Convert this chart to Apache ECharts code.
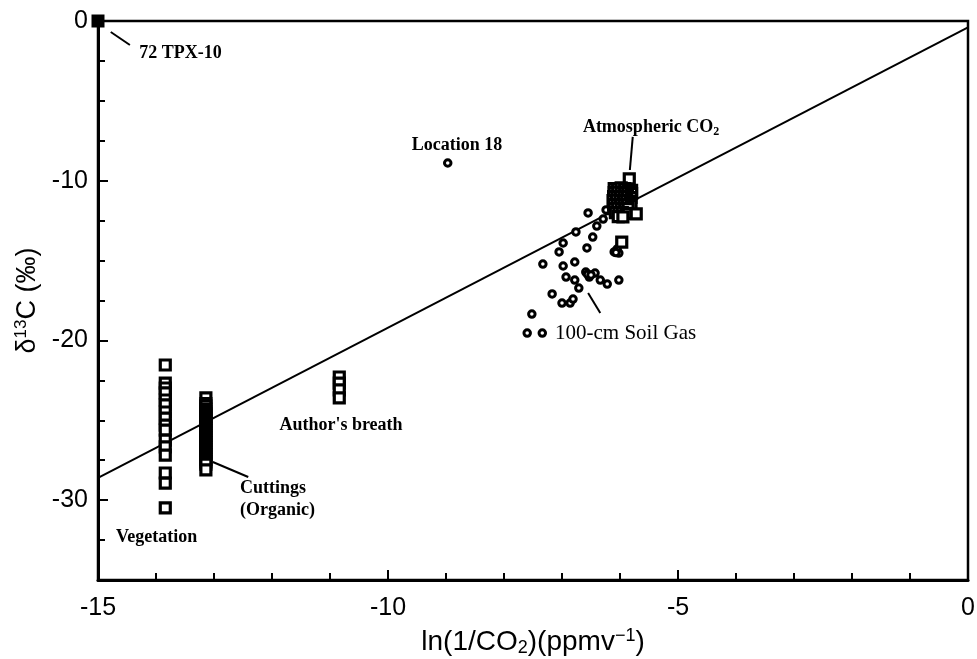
<!DOCTYPE html>
<html><head><meta charset="utf-8">
<script src="https://cdn.jsdelivr.net/npm/echarts@6/dist/echarts.min.js"></script>
<style>html,body{margin:0;padding:0;background:#fff}#c{width:977px;height:659px}</style>
</head><body><div id="c"></div>
<script>
// ---- data ----
const yMajorTicks = [-30, -20, -10, 0];
const tpx10 = [[-15, 0]];
const location18 = [[-8.97, -8.89]];
const vegetation = [
  [-13.84,-21.54],[-13.84,-22.67],[-13.84,-22.98],[-13.84,-23.29],[-13.84,-23.73],
  [-13.84,-24.04],[-13.84,-24.48],[-13.84,-24.86],[-13.84,-25.30],[-13.84,-25.61],
  [-13.84,-26.24],[-13.84,-26.67],[-13.84,-27.18],[-13.84,-28.30],[-13.84,-28.93],
  [-13.84,-30.49]
];
const cuttings = [
  [-13.14,-23.6],[-13.14,-23.95],[-13.14,-24.1],[-13.14,-24.3],[-13.14,-24.45],[-13.14,-24.6],
  [-13.14,-24.75],[-13.14,-24.9],[-13.14,-25.05],[-13.14,-25.2],[-13.14,-25.35],
  [-13.14,-25.5],[-13.14,-25.65],[-13.14,-25.8],[-13.14,-25.95],[-13.14,-26.1],
  [-13.14,-26.25],[-13.14,-26.4],[-13.14,-26.55],[-13.14,-26.7],[-13.14,-26.85],
  [-13.14,-27.0],[-13.14,-27.15],[-13.14,-27.3],[-13.14,-27.45],[-13.14,-27.6],
  [-13.14,-27.75],[-13.14,-28.1]
];
const authorsBreath = [[-10.84,-22.29],[-10.84,-22.67],[-10.84,-23.1],[-10.84,-23.6]];
const atmospheric = [
  [-5.84,-9.89],
  [-6.10,-10.50],[-6.04,-10.50],[-5.98,-10.45],[-5.92,-10.50],[-5.86,-10.55],[-5.80,-10.60],
  [-6.10,-10.75],[-6.04,-10.72],[-5.98,-10.75],[-5.92,-10.78],[-5.86,-10.75],[-5.80,-10.80],
  [-6.11,-11.00],[-6.05,-11.00],[-5.99,-10.98],[-5.93,-11.02],[-5.87,-11.00],[-5.81,-11.05],
  [-6.12,-11.25],[-6.06,-11.22],[-6.00,-11.25],[-5.94,-11.28],[-5.88,-11.25],[-5.82,-11.30],
  [-6.11,-11.50],[-6.05,-11.48],[-5.99,-11.50],[-5.93,-11.52],[-5.87,-11.50],[-5.81,-11.55],
  [-6.10,-11.75],[-6.04,-11.72],[-5.98,-11.75],[-5.92,-11.78],[-5.86,-11.75],
  [-6.08,-12.00],[-6.02,-12.02],[-5.96,-12.00],[-5.90,-12.05],
  [-6.03,-12.25],[-5.95,-12.27],
  [-5.72,-12.08],[-5.97,-13.84]
];
const soilGas = [
  [-6.55,-12.02],[-6.24,-11.83],[-6.29,-12.40],[-6.40,-12.84],[-6.76,-13.21],
  [-6.47,-13.53],[-6.98,-13.90],[-7.05,-14.46],[-6.57,-14.21],[-7.33,-15.22],
  [-6.98,-15.34],[-6.78,-15.09],[-6.93,-16.03],[-6.78,-16.22],[-6.71,-16.72],
  [-6.59,-15.72],[-6.53,-16.03],[-6.43,-15.78],[-6.34,-16.22],[-6.22,-16.47],
  [-6.02,-16.22],[-7.17,-17.09],[-7.00,-17.66],[-6.86,-17.66],[-6.81,-17.41],
  [-7.52,-18.35],[-7.60,-19.54],[-7.34,-19.54],[-6.10,-14.46],[-6.02,-14.53],
  [-6.05,-14.28],[-6.07,-14.50],[-6.56,-15.85],[-6.50,-15.90]
];
const regression = [[-15, -28.6], [0, -0.4]];

// annotations in data coordinates
const notes = [
  {text: '{b|72 TPX-10}', at: [-14.29, -2.0], align: 'left'},
  {text: '{b|Location 18}', at: [-8.81, -7.76], align: 'center'},
  {text: '{b|Atmospheric CO}{s|2}', at: [-6.64, -6.64], align: 'left'},
  {text: '{n|100-cm Soil Gas}', at: [-7.12, -19.54], align: 'left'},
  {text: "{b|Author's breath}", at: [-10.81, -25.3], align: 'center'},
  {text: '{b|Cuttings}\n{b|(Organic)}', at: [-12.55, -29.93], align: 'left'},
  {text: '{b|Vegetation}', at: [-14.69, -32.3], align: 'left'}
];
const leaders = [
  [[-14.78, -0.69], [-14.45, -1.50]],
  [[-5.78, -7.26], [-5.83, -9.33]],
  [[-6.55, -17.03], [-6.34, -18.28]],
  [[-13.02, -27.61], [-12.41, -28.55]]
];

const chart = echarts.init(document.getElementById('c'), null, {renderer: 'canvas'});
const sqStyle = {color: '#fff', borderColor: '#000', borderWidth: 3.2, opacity: 1};
const ciStyle = {color: '#fff', borderColor: '#000', borderWidth: 3, opacity: 1};
const sans = 'Liberation Sans, Arial, sans-serif';
const serif = 'Liberation Serif, Times New Roman, serif';

function sq(name, data) {
  return {type: 'scatter', name, data, symbol: 'rect', symbolSize: 10, itemStyle: sqStyle, clip: false, z: 3};
}
function ci(name, data) {
  return {type: 'scatter', name, data, symbol: 'circle', symbolSize: 6.5, itemStyle: ciStyle, clip: false, z: 3};
}

chart.setOption({
  animation: false,
  backgroundColor: '#fff',
  grid: {left: 98, right: 9, top: 21, bottom: 79, show: true, borderColor: '#000', borderWidth: 2.5,
         containLabel: false, outerBoundsMode: 'none'},
  xAxis: {
    type: 'value', min: -15, max: 0, interval: 5,
    axisLine: {onZero: false, lineStyle: {color: '#000', width: 3}},
    axisTick: {inside: true, length: 10, lineStyle: {color: '#000', width: 2}},
    minorTick: {show: true, splitNumber: 5, length: 7, lineStyle: {color: '#000', width: 2}},
    splitLine: {show: false},
    minorSplitLine: {show: false},
    axisLabel: {color: '#000', fontSize: 25, fontFamily: sans, margin: 16},
    name: '{a|ln(1/CO}{sub|2}{a|)(ppmv}{sup|−1}{a|)}',
    nameLocation: 'middle', nameGap: 47,
    nameTextStyle: {
      rich: {
        a: {fontSize: 28, fontFamily: sans, color: '#000', lineHeight: 30},
        sub: {fontSize: 18, fontFamily: sans, color: '#000', verticalAlign: 'bottom', lineHeight: 30},
        sup: {fontSize: 18, fontFamily: sans, color: '#000', verticalAlign: 'top', lineHeight: 30}
      }
    }
  },
  yAxis: [{
    type: 'value', min: -35, max: 0, interval: 2.5,
    axisLine: {onZero: false, lineStyle: {color: '#000', width: 3}},
    axisTick: {inside: true, length: 7, lineStyle: {color: '#000', width: 2}},
    splitLine: {show: false},
    axisLabel: {color: '#000', fontSize: 25, fontFamily: sans, margin: 10, customValues: yMajorTicks},
    name: '{a|δ}{sup|13}{a|C (‰)}',
    nameLocation: 'middle', nameGap: 52, nameRotate: 90,
    nameTextStyle: {
      rich: {
        a: {fontSize: 27, fontFamily: sans, color: '#000', lineHeight: 30},
        sup: {fontSize: 17, fontFamily: sans, color: '#000', verticalAlign: 'top', lineHeight: 30}
      }
    }
  }, {
    type: 'value', min: -35, max: 0, position: 'left', offset: 0,
    axisLine: {show: false, onZero: false},
    axisTick: {show: true, inside: true, length: 10, customValues: yMajorTicks, lineStyle: {color: '#000', width: 2}},
    axisLabel: {show: false},
    splitLine: {show: false}
  }],
  series: [
    {type: 'line', data: regression, symbol: 'none', lineStyle: {color: '#000', width: 2}, z: 2, silent: true},
    {type: 'scatter', name: '72 TPX-10', data: tpx10, symbol: 'rect', symbolSize: 13, itemStyle: {color: '#000', opacity: 1}, clip: false, z: 4},
    sq('Vegetation', vegetation),
    sq('Cuttings', cuttings),
    sq("Author's breath", authorsBreath),
    ci('100-cm Soil Gas', soilGas),
    sq('Atmospheric CO2', atmospheric),
    ci('Location 18', location18)
  ]
});

const rich = {
  b: {fontFamily: serif, fontWeight: 'bold', fontSize: 18, fill: '#000', color: '#000', lineHeight: 22},
  n: {fontFamily: serif, fontWeight: 'normal', fontSize: 21, fill: '#000', color: '#000', lineHeight: 22},
  s: {fontFamily: serif, fontWeight: 'bold', fontSize: 12, fill: '#000', color: '#000', verticalAlign: 'bottom', lineHeight: 22}
};
const graphics = [];
notes.forEach(n => {
  const p = chart.convertToPixel({gridIndex: 0}, n.at);
  graphics.push({type: 'text', x: p[0], y: p[1], z: 10,
    style: {text: n.text, rich, align: n.align, verticalAlign: 'middle'}});
});
leaders.forEach(l => {
  const a = chart.convertToPixel({gridIndex: 0}, l[0]);
  const b = chart.convertToPixel({gridIndex: 0}, l[1]);
  graphics.push({type: 'line', z: 10, shape: {x1: a[0], y1: a[1], x2: b[0], y2: b[1]}, style: {stroke: '#000', lineWidth: 2}});
});
chart.setOption({graphic: graphics});
</script></body></html>
